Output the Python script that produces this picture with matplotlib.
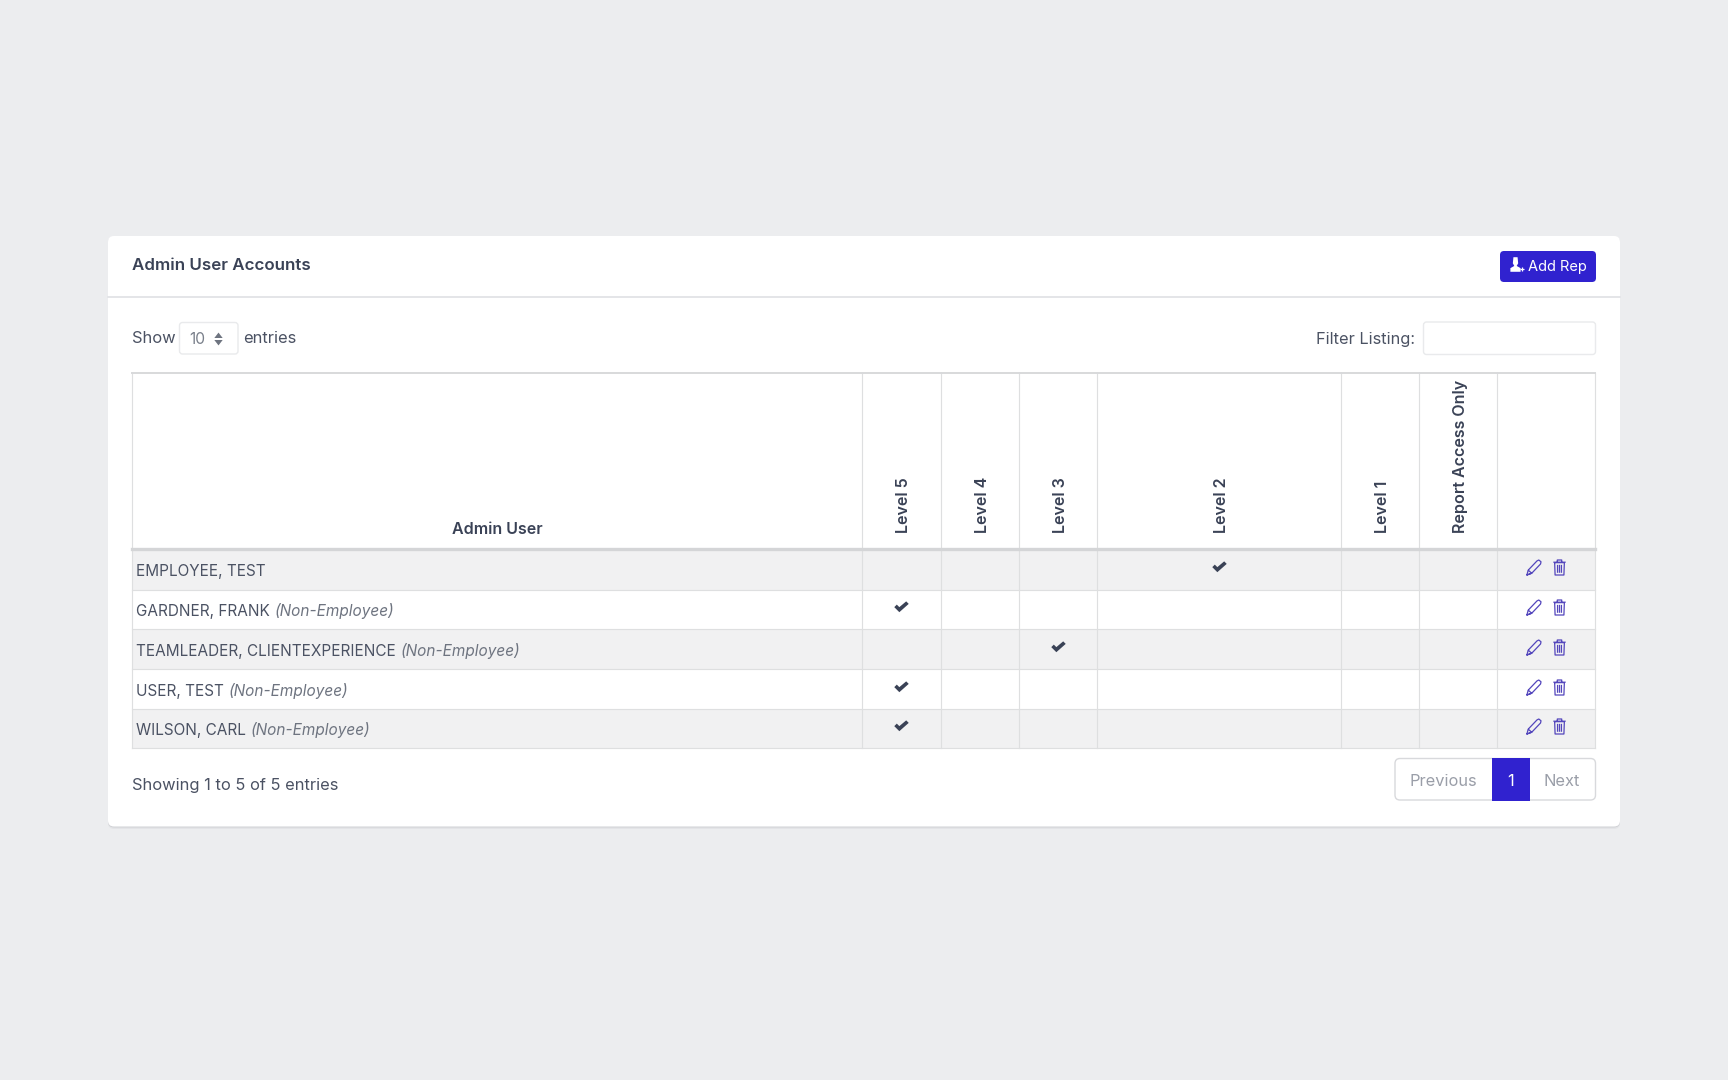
import matplotlib
matplotlib.use("Agg")
import matplotlib.pyplot as plt
from matplotlib.patches import FancyBboxPatch, Rectangle
from matplotlib.path import Path

plt.rcParams['font.family'] = ['Inter', 'DejaVu Sans']

# ---- data ----
title = "Admin User Accounts"
user_names = ["EMPLOYEE, TEST", "GARDNER, FRANK", "TEAMLEADER, CLIENTEXPERIENCE", "USER, TEST", "WILSON, CARL"]
non_employee = [False, True, True, True, True]
column_labels = ["Level 5", "Level 4", "Level 3", "Level 2", "Level 1", "Report Access Only"]
user_level = ["Level 2", "Level 5", "Level 3", "Level 5", "Level 5"]
footer_text = "Showing 1 to 5 of 5 entries"
page_labels = ["Previous", "1", "Next"]

# ---- layout (pixels) ----
col_edges = [132, 861.7, 940.7, 1018.7, 1096.7, 1340.7, 1418.7, 1496.7, 1595]
row_edges = [549, 589.5, 629, 669, 708.5, 748]
TABLE_TOP = 373

BG = "#ECEDEF"; DARK = "#3A4256"; BODY = "#4B5263"; GREY = "#6E7480"; LINE = "#DEDFE0"
BLUE = "#3022CF"; ICON = "#5346BC"; ZEBRA = "#F1F1F2"

fig = plt.figure(figsize=(17.28, 10.8), dpi=100, facecolor=BG)
ax = fig.add_axes([0, 0, 1, 1])
ax.set_xlim(0, 1728); ax.set_ylim(1080, 0); ax.axis("off")

def box(x0, y0, x1, y1, r=0, **kw):
    p = FancyBboxPatch((x0 + r, y0 + r), x1 - x0 - 2 * r, y1 - y0 - 2 * r,
                       boxstyle=f"round,pad={r},rounding_size={r}", **kw)
    ax.add_patch(p)
    return p

# card with soft shadow
for off, col in [(3, "#E3E4E7"), (1.5, "#D0D1D5")]:
    box(108, 237, 1620, 826 + off, r=6, fc=col, ec="none", zorder=1)
box(108, 236, 1620, 826.5, r=6, fc="white", ec="none", zorder=2)
ax.plot([108, 1620], [297, 297], color="#E4E5E8", lw=1.4, zorder=3)

ax.text(132, 270, title, fontsize=12.2, fontweight="semibold", color=DARK, zorder=5)

# Add Rep button
box(1500, 251, 1596, 282, r=4, fc=BLUE, ec="none", zorder=3)
ax.text(1528.5, 271.5, "Add Rep", fontsize=10.5, color="white", zorder=5)
user_plus = Path([(-.17,.6),(.17,.6),(.22,.1),(.1,-.12),(.42,-.3),(.42,-.6),(-.42,-.6),(-.42,-.3),(-.1,-.12),(-.22,.1),(-.17,.6)])
ax.plot([1514.5], [264], marker=user_plus, ms=10.5, color="white", mew=0, zorder=5)
ax.plot([1521.5], [269], marker="+", ms=3.5, color="white", mew=0.9, zorder=5)

# length / filter controls
ax.text(132, 343, "Show", fontsize=11.9, color=BODY, zorder=5)
box(179.5, 322.5, 238, 354, r=3, fc="white", ec="#E9EAEC", lw=1, zorder=3)
ax.text(189.5, 343.5, "10", fontsize=11.2, color="#7A808B", zorder=5)
ax.plot([218], [335], marker=Path([(-1,-.6),(1,-.6),(0,.7),(-1,-.6)]), ms=6, color=GREY, mew=0, zorder=5)
ax.plot([218], [342], marker=Path([(-1,.6),(1,.6),(0,-.7),(-1,.6)]), ms=6, color=GREY, mew=0, zorder=5)
ax.text(243.5, 343, "entries", fontsize=11.9, color=BODY, zorder=5)
ax.text(1415, 344, "Filter Listing:", fontsize=11.8, color=BODY, ha="right", zorder=5)
box(1423.5, 322, 1595.5, 354.5, r=3, fc="white", ec="#E9EAEC", lw=1, zorder=3)

# zebra rows
for i in range(len(user_names)):
    if i % 2 == 0:
        ax.add_patch(Rectangle((col_edges[0], row_edges[i]), col_edges[-1] - col_edges[0],
                               row_edges[i + 1] - row_edges[i], fc=ZEBRA, ec="none", zorder=3))
# grid
for x in col_edges:
    ax.plot([x, x], [TABLE_TOP, row_edges[-1]], color=LINE, lw=0.85, zorder=4)
ax.plot([col_edges[0], col_edges[-1]], [TABLE_TOP, TABLE_TOP], color="#D8D9DB", lw=1.4, zorder=4)
ax.plot([col_edges[0], col_edges[-1]], [row_edges[0], row_edges[0]], color="#D4D5D7", lw=2.4, zorder=4)
for y in row_edges[1:]:
    ax.plot([col_edges[0], col_edges[-1]], [y, y], color=LINE, lw=0.85, zorder=4)

# headers
ax.text((col_edges[0] + col_edges[1]) / 2, 534, "Admin User", fontsize=11.5, fontweight="semibold",
        color=DARK, ha="center", zorder=5)
centers = {lab: (col_edges[j + 1] + col_edges[j + 2]) / 2 for j, lab in enumerate(column_labels)}
for lab in column_labels:
    ax.text(centers[lab] + 2.5, 533, lab, rotation=90, fontsize=11.55, fontweight="semibold",
            color=DARK, ha="center", va="bottom", zorder=5)

# markers
check = Path([(-1,.05),(-.65,.4),(-.3,.05),(.65,.85),(1,.5),(-.3,-.65),(-1,.05)])
pencil = Path([(-.75,-.85),(-.6,-.3),(.4,.75),(.6,.85),(.85,.65),(.8,.4),(-.2,-.65),(-.75,-.85),(-.2,-.65),(-.6,-.3)],
              [Path.MOVETO]+[Path.LINETO]*9)
trash = Path([(-.55,.55),(-.5,-.85),(.5,-.85),(.55,.55),(-.55,.55),
              (-.7,.6),(.7,.6),(-.25,.6),(-.25,.85),(.25,.85),(.25,.6),
              (-.22,.3),(-.22,-.6),(0,.3),(0,-.6),(.22,.3),(.22,-.6)],
             [Path.MOVETO]+[Path.LINETO]*4+[Path.MOVETO,Path.LINETO,Path.MOVETO,Path.LINETO,Path.LINETO,Path.LINETO,
              Path.MOVETO,Path.LINETO,Path.MOVETO,Path.LINETO,Path.MOVETO,Path.LINETO])

# rows
fig.canvas.draw()
rend = fig.canvas.get_renderer()
for i, name in enumerate(user_names):
    yc = (row_edges[i] + row_edges[i + 1]) / 2
    t = ax.text(136, yc + 6.8, name, fontsize=11.05, color=BODY, zorder=5)
    if non_employee[i]:
        x1 = t.get_window_extent(rend).x1
        ax.text(x1 + 4.5, yc + 6.8, "(Non-Employee)", fontsize=11.05, style="italic", color=GREY, zorder=5)
    ax.plot([centers[user_level[i]]], [yc - 1.8], marker=check, ms=10.4, color=DARK, mew=0, zorder=5)
    ax.plot([1533], [yc - 2.2], marker=pencil, ms=10.8, mfc="none", mec=ICON, mew=0.9, zorder=5)
    ax.plot([1559], [yc - 2.2], marker=trash, ms=10.8, mfc="none", mec=ICON, mew=0.9, zorder=5)

# footer
ax.text(132, 790, footer_text, fontsize=11.85, color=BODY, zorder=5)
box(1395, 758.5, 1595.5, 800, r=5, fc="white", ec="#D8D9DC", lw=1, zorder=3)
ax.add_patch(Rectangle((1492, 758), 38, 42.5, fc=BLUE, ec="none", zorder=4))
for lab, xc, col in zip(page_labels, [1443, 1511, 1562], ["#9A9EA8", "white", "#9A9EA8"]):
    ax.text(xc, 786, lab, fontsize=11.8, color=col, ha="center", zorder=5)

fig.savefig("out.png", dpi=100, facecolor=BG)
